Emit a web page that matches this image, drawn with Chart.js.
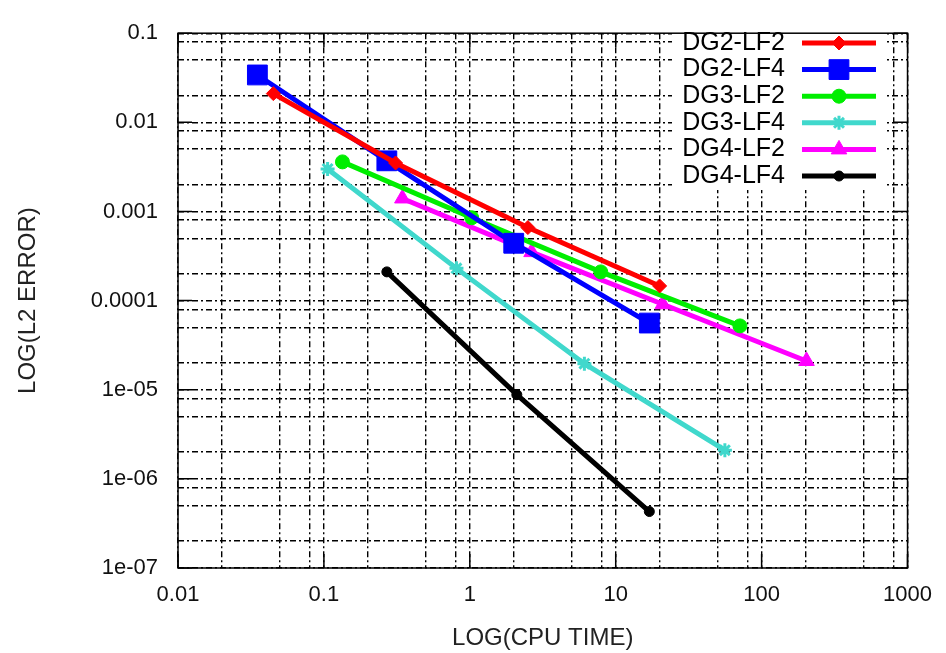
<!DOCTYPE html>
<html>
<head>
<meta charset="utf-8">
<script src="https://cdn.jsdelivr.net/npm/chart.js@4"></script>
<style>
  body { margin: 0; background: #fff; }
  .wrap { width: 946px; height: 653px; position: relative; }
</style>
</head>
<body>
<div class="wrap"><canvas class="chart-1"></canvas></div>
<script>
// Tick labels (decades) and the grid steps inside each decade
const xDecades = [0.01, 0.1, 1, 10, 100, 1000];
const xTickLabels = ['0.01', '0.1', '1', '10', '100', '1000'];
const yDecades = [1e-7, 1e-6, 1e-5, 1e-4, 1e-3, 0.01, 0.1];
const yTickLabels = ['1e-07', '1e-06', '1e-05', '0.0001', '0.001', '0.01', '0.1'];
const gridSteps = [1, 2, 5, 8];

// Series: CPU time and L2 error
const seriesNames = ['DG2-LF2', 'DG2-LF4', 'DG3-LF2', 'DG3-LF4', 'DG4-LF2', 'DG4-LF4'];

const dg2lf2Time = [0.045, 0.31, 2.5, 20];
const dg2lf2Err = [0.021, 0.0035, 0.00066, 0.000146];

const dg2lf4Time = [0.035, 0.27, 2.0, 17];
const dg2lf4Err = [0.034, 0.0037, 0.00044, 0.000056];

const dg3lf2Time = [0.134, 1.03, 7.9, 71];
const dg3lf2Err = [0.0036, 0.00085, 0.00021, 0.000052];

const dg3lf4Time = [0.106, 0.81, 6.1, 56];
const dg3lf4Err = [0.0030, 0.00023, 0.0000196, 0.0000021];

const dg4lf2Time = [0.345, 2.65, 21, 203];
const dg4lf2Err = [0.0014, 0.00035, 0.000091, 0.000021];

const dg4lf4Time = [0.27, 2.1, 17];
const dg4lf4Err = [0.00021, 0.0000088, 0.00000043];

// zip two arrays into {x, y} points
function toPoints(xs, ys) {
    return xs.map((x, i) => ({ x: x, y: ys[i] }));
}

// all grid values between the first and last decade
function gridValues(decades) {
    const vals = [];
    for (let i = 0; i < decades.length; i++) {
        for (const s of gridSteps) {
            if (i === decades.length - 1 && s > 1) break;
            vals.push(decades[i] * s);
        }
    }
    return vals;
}

function labelFor(value, decades, labels) {
    const idx = decades.findIndex(d => Math.abs(Math.log10(d) - Math.log10(value)) < 1e-6);
    return idx >= 0 ? labels[idx] : '';
}

const styles = [
    { color: '#ff0000', pointStyle: 'rectRot', radius: 7 },
    { color: '#0000ff', pointStyle: 'rect', radius: 14 },
    { color: '#00ee00', pointStyle: 'circle', radius: 7 },
    { color: '#40d8cc', pointStyle: 'star', radius: 7 },
    { color: '#ff00ff', pointStyle: 'triangle', radius: 9 },
    { color: '#000000', pointStyle: 'circle', radius: 5 }
];

const seriesData = [
    toPoints(dg2lf2Time, dg2lf2Err),
    toPoints(dg2lf4Time, dg2lf4Err),
    toPoints(dg3lf2Time, dg3lf2Err),
    toPoints(dg3lf4Time, dg3lf4Err),
    toPoints(dg4lf2Time, dg4lf2Err),
    toPoints(dg4lf4Time, dg4lf4Err)
];

const datasets = seriesNames.map((name, i) => ({
    label: name,
    data: seriesData[i],
    borderColor: styles[i].color,
    backgroundColor: styles[i].color,
    pointBackgroundColor: styles[i].color,
    pointBorderColor: styles[i].color,
    pointStyle: styles[i].pointStyle,
    pointRadius: styles[i].radius,
    pointBorderWidth: styles[i].pointStyle === 'star' ? 3 : 1,
    borderWidth: 5,
    tension: 0
}));

// Frame, decade tick marks and the gnuplot-style legend (text left of sample)
const framePlugin = {
    id: 'frame',
    afterDraw(chart) {
        const { ctx, chartArea: a } = chart;
        const xs = chart.scales.x, ys = chart.scales.y;
        ctx.save();

        // inward decade ticks
        ctx.strokeStyle = '#000';
        ctx.lineWidth = 1.5;
        ctx.setLineDash([]);
        ctx.beginPath();
        yDecades.forEach(v => {
            const py = ys.getPixelForValue(v);
            ctx.moveTo(a.left, py); ctx.lineTo(a.left + 14, py);
            ctx.moveTo(a.right, py); ctx.lineTo(a.right - 14, py);
        });
        xDecades.forEach(v => {
            const px = xs.getPixelForValue(v);
            ctx.moveTo(px, a.bottom); ctx.lineTo(px, a.bottom - 14);
            ctx.moveTo(px, a.top); ctx.lineTo(px, a.top + 14);
        });
        ctx.stroke();

        // legend background hides the grid
        ctx.fillStyle = '#fff';
        ctx.fillRect(672, 28, 212, 162);

        ctx.font = '25px "Liberation Sans", Arial, sans-serif';
        ctx.textAlign = 'right';
        ctx.textBaseline = 'middle';
        chart.data.datasets.forEach((ds, i) => {
            const y = 43 + i * 26.6;
            ctx.fillStyle = '#000';
            ctx.fillText(ds.label, 785, y);
            ctx.strokeStyle = ds.borderColor;
            ctx.lineWidth = 5;
            ctx.beginPath();
            ctx.moveTo(802, y);
            ctx.lineTo(876, y);
            ctx.stroke();
            ctx.fillStyle = ds.borderColor;
            ctx.lineWidth = ds.pointBorderWidth;
            Chart.helpers.drawPoint(ctx, {
                pointStyle: ds.pointStyle,
                radius: ds.pointRadius,
                rotation: 0,
                borderWidth: ds.pointBorderWidth
            }, 839, y);
        });

        ctx.strokeStyle = '#000';
        ctx.lineWidth = 1.5;
        ctx.strokeRect(a.left, a.top, a.right - a.left, a.bottom - a.top);
        ctx.restore();
    }
};

const canvasElement = document.querySelector('.chart-1');
const tickFont = { family: '"Liberation Sans", Arial, sans-serif', size: 22 };
const titleFont = { family: '"Liberation Sans", Arial, sans-serif', size: 24 };

canvasElement.chart = new Chart(canvasElement, {
    type: 'line',
    data: { datasets: datasets },
    plugins: [framePlugin],
    options: {
        responsive: true,
        maintainAspectRatio: false,
        animation: false,
        layout: { padding: { left: 0, top: 18, right: 37, bottom: 0 } },
        plugins: {
            legend: { display: false },
            tooltip: { enabled: false }
        },
        scales: {
            x: {
                type: 'logarithmic',
                min: 0.01,
                max: 1000,
                afterBuildTicks: axis => { axis.ticks = gridValues(xDecades).map(v => ({ value: v })); },
                afterFit: axis => { axis.height = 85; },
                ticks: {
                    autoSkip: false,
                    maxRotation: 0,
                    padding: 14,
                    color: '#111',
                    font: tickFont,
                    callback: value => labelFor(value, xDecades, xTickLabels)
                },
                grid: { color: '#000', lineWidth: 1.4, drawTicks: false },
                border: { display: false, dash: [6, 3, 2, 3] },
                title: {
                    display: true,
                    text: 'LOG(CPU TIME)',
                    color: '#222',
                    font: titleFont,
                    padding: { top: 4, bottom: 0 }
                }
            },
            y: {
                type: 'logarithmic',
                min: 1e-7,
                max: 0.1,
                afterBuildTicks: axis => { axis.ticks = gridValues(yDecades).map(v => ({ value: v })); },
                afterFit: axis => { axis.width = 178; },
                ticks: {
                    autoSkip: false,
                    padding: 20,
                    color: '#111',
                    font: tickFont,
                    callback: value => labelFor(value, yDecades, yTickLabels)
                },
                grid: { color: '#000', lineWidth: 1.4, drawTicks: false },
                border: { display: false, dash: [6, 3, 2, 3] },
                title: {
                    display: true,
                    text: 'LOG(L2 ERROR)',
                    color: '#222',
                    font: titleFont,
                    padding: { top: 14, bottom: 0 }
                }
            }
        }
    }
});
</script>
</body>
</html>
